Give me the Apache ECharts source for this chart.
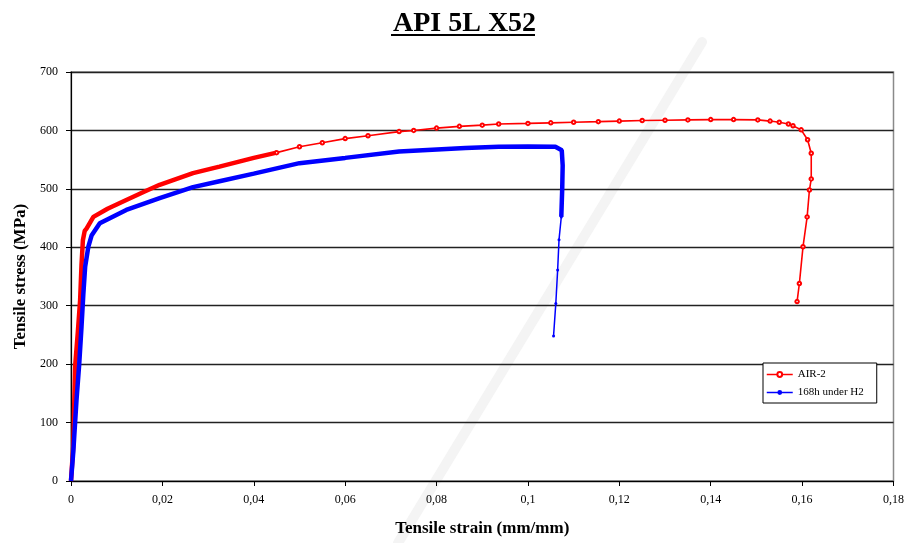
<!DOCTYPE html>
<html>
<head>
<meta charset="utf-8">
<script src="https://cdn.jsdelivr.net/npm/echarts@6/dist/echarts.min.js"></script>
<style>
  html, body { margin: 0; padding: 0; background: #fff; }
  #chart { width: 907px; height: 543px; }
</style>
</head>
<body>
<div id="chart"></div>
<script>
// Tensile test curves, API 5L X52 steel
const seriesNames = ['AIR-2', '168h under H2'];

// AIR-2 : strain (mm/mm) and stress (MPa)
const airStrain = [0, 0.0005, 0.0009, 0.0015, 0.002, 0.0023, 0.0026, 0.003, 0.0034, 0.0049,
  0.008, 0.0121, 0.016, 0.0194, 0.0267, 0.0325, 0.04, 0.045,
  0.05, 0.055, 0.06, 0.065, 0.0718, 0.075, 0.08, 0.085, 0.09, 0.0936, 0.1, 0.105, 0.11,
  0.1154, 0.12, 0.125, 0.13, 0.135, 0.14, 0.145, 0.1503, 0.153, 0.155, 0.157, 0.158,
  0.1598, 0.1612, 0.162, 0.162, 0.1616, 0.1611, 0.1602, 0.1594, 0.1589];
const airStress = [0, 60, 196, 255, 310, 370, 412, 428, 432, 452,
  466, 481, 495, 507, 527, 538, 553, 562,
  572, 579, 586, 591, 598, 600, 604, 607, 609, 611, 612, 613, 614,
  615, 616, 617, 617.5, 618, 618.5, 618.5, 618, 616, 614, 611, 608,
  601, 584, 561, 517, 498, 452, 401, 338, 307];
const airThickEnd = 18; // first points drawn as the dense, thick trace

// 168h under H2 : strain (mm/mm) and stress (MPa)
const h2Strain = [0, 0.0005, 0.0012, 0.0018, 0.0023, 0.0027, 0.0031, 0.0038, 0.0045, 0.0063,
  0.0121, 0.0194, 0.0267, 0.0325, 0.04, 0.05, 0.06, 0.0718, 0.0863, 0.0936, 0.1, 0.106,
  0.1074, 0.1076, 0.1075, 0.1073,
  0.1068, 0.1065, 0.1061, 0.1056];
const h2Stress = [0, 50, 138, 200, 264, 320, 367, 401, 420, 441,
  464, 484, 503, 513, 526, 544, 553, 564, 570, 572, 572.5, 572,
  566, 540, 500, 452,
  413, 361, 304, 248];
const h2ThickEnd = 26;

const xTicks = { min: 0, max: 0.18, interval: 0.02 };
const yTicks = { min: 0, max: 700, interval: 100 };

function pairs(xs, ys, from, to) {
  const out = [];
  for (let i = from; i < to; i++) out.push([xs[i], ys[i]]);
  return out;
}

const serif = '"Liberation Serif", "DejaVu Serif", serif';
const chart = echarts.init(document.getElementById('chart'), null, { renderer: 'canvas' });

chart.setOption({
  animation: false,
  backgroundColor: '#fff',
  title: {
    text: 'API 5L X52',
    left: 388,
    top: 5,
    textStyle: { fontFamily: serif, fontWeight: 'bold', fontSize: 28, color: '#000' }
  },
  graphic: [
    {
      type: 'line', z: 100,
      shape: { x1: 391, y1: 35, x2: 535, y2: 35 },
      style: { stroke: '#000', lineWidth: 2 }
    },
    {
      type: 'line', z: -1, silent: true,
      shape: { x1: 702, y1: 42, x2: 398, y2: 543 },
      style: { stroke: '#f4f4f4', lineWidth: 10, lineCap: 'round' }
    }
  ],
  grid: {
    left: 71, right: 11, top: 72, bottom: 62,
    show: true, borderColor: '#8a8a8a', borderWidth: 1.5, backgroundColor: 'transparent'
  },
  legend: {
    data: seriesNames,
    orient: 'vertical',
    left: 763, top: 363,
    itemWidth: 26, itemHeight: 6, itemGap: 7,
    padding: [6, 13, 5, 3],
    backgroundColor: '#fff',
    borderColor: '#000', borderWidth: 1,
    borderRadius: 0,
    lineStyle: { width: 1.5 },
    textStyle: { fontFamily: serif, fontSize: 11, color: '#000' }
  },
  xAxis: {
    type: 'value',
    min: xTicks.min, max: xTicks.max, interval: xTicks.interval,
    name: 'Tensile strain (mm/mm)',
    nameLocation: 'middle', nameGap: 39,
    nameTextStyle: { fontFamily: serif, fontWeight: 'bold', fontSize: 17, color: '#000' },
    axisLine: { show: true, lineStyle: { color: '#000', width: 1.2 } },
    axisTick: { show: true, inside: false, length: 5, lineStyle: { color: '#000' } },
    axisLabel: {
      margin: 13, fontFamily: serif, fontSize: 12, color: '#000',
      formatter: v => String(+v.toFixed(2)).replace('.', ',')
    },
    splitLine: { show: false }
  },
  yAxis: {
    type: 'value',
    min: yTicks.min, max: yTicks.max, interval: yTicks.interval,
    name: 'Tensile stress (MPa)',
    nameLocation: 'middle', nameGap: 42, nameRotate: 90,
    nameTextStyle: { fontFamily: serif, fontWeight: 'bold', fontSize: 17, color: '#000' },
    axisLine: { show: true, lineStyle: { color: '#000', width: 1.2 } },
    axisTick: { show: true, inside: false, length: 5, lineStyle: { color: '#000' } },
    axisLabel: { margin: 13, fontFamily: serif, fontSize: 12, color: '#000' },
    splitLine: { show: true, lineStyle: { color: '#222', width: 1.3 } }
  },
  series: [
    {
      name: seriesNames[0], type: 'line',
      data: pairs(airStrain, airStress, airThickEnd - 1, airStrain.length),
      symbol: 'emptyCircle', symbolSize: 3.5, showSymbol: true,
      lineStyle: { color: '#ff0000', width: 1.6 },
      itemStyle: { color: '#ff0000', borderWidth: 1 },
      z: 3
    },
    {
      name: seriesNames[0], type: 'line',
      data: pairs(airStrain, airStress, 0, airThickEnd),
      symbol: 'none',
      lineStyle: { color: '#ff0000', width: 4.5 },
      itemStyle: { color: '#ff0000' },
      z: 3
    },
    {
      name: seriesNames[1], type: 'line',
      data: pairs(h2Strain, h2Stress, h2ThickEnd - 1, h2Strain.length),
      symbol: 'circle', symbolSize: 3, showSymbol: true,
      lineStyle: { color: '#0000ff', width: 1.5 },
      itemStyle: { color: '#0000ff' },
      z: 4
    },
    {
      name: seriesNames[1], type: 'line',
      data: pairs(h2Strain, h2Stress, 0, h2ThickEnd),
      symbol: 'none',
      lineStyle: { color: '#0000ff', width: 4.5 },
      itemStyle: { color: '#0000ff' },
      z: 4
    }
  ]
});
</script>
</body>
</html>
